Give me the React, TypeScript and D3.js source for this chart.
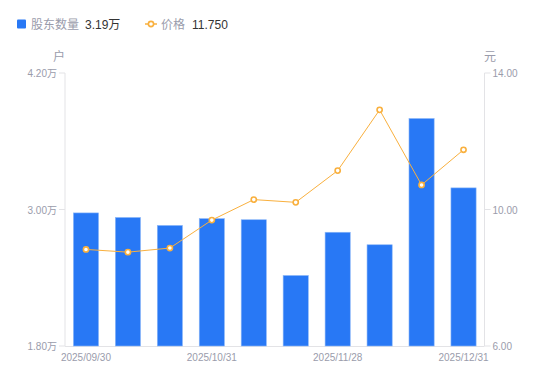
import React from "react";
import * as d3 from "d3";

const categories = ["2025/09/30", "2025/10/10", "2025/10/20", "2025/10/31", "2025/11/10", "2025/11/20", "2025/11/28", "2025/12/10", "2025/12/19", "2025/12/31"];
const holders = [2.97, 2.93, 2.86, 2.92, 2.91, 2.42, 2.80, 2.69, 3.80, 3.19];
const prices = [8.83, 8.75, 8.87, 9.69, 10.29, 10.21, 11.14, 12.92, 10.72, 11.75];
const leftTicks = [1.8, 3.0, 4.2];
const rightTicks = [6, 10, 14];
const xLabelIdx = [0, 3, 6, 9];

const W = 550, H = 381;
const L = 65, R = 484.5, T = 73, B = 346;
const font = "'Liberation Sans', Arial, 'Noto Sans CJK SC', sans-serif";
const gray = "#9a9cab";
const axisCol = "#e3e3e6";
const blue = "#2878F5";
const orange = "#F9B03E";

export default function App() {
  const x = d3.scaleBand<string>().domain(categories).range([L, R]).paddingInner(0.4).paddingOuter(0.2);
  const yL = d3.scaleLinear().domain([1.8, 4.2]).range([B, T]);
  const yR = d3.scaleLinear().domain([6, 14]).range([B, T]);
  const cx = (c: string) => (x(c) as number) + x.bandwidth() / 2;
  const line = d3.line<number>().x((_, i) => cx(categories[i])).y((d) => yR(d));

  return (
    <svg width={W} height={H} style={{ position: "absolute", left: 0, top: 0 }} fontFamily={font}>
      <rect width={W} height={H} fill="#fff" />
      {/* legend */}
      <rect x={17} y={19.5} width={9} height={9} rx={1} fill={blue} />
      <text x={31} y={29} fontSize={12} fill={gray}>股东数量</text>
      <text x={85} y={29} fontSize={12} fill="#333">{holders[holders.length - 1].toFixed(2)}万</text>
      <line x1={145} x2={157} y1={24} y2={24} stroke={orange} strokeWidth={1.5} />
      <circle cx={151} cy={24} r={2.6} fill="#fff" stroke={orange} strokeWidth={1.6} />
      <text x={161} y={29} fontSize={12} fill={gray}>价格</text>
      <text x={192} y={29} fontSize={12} fill="#333">{prices[prices.length - 1].toFixed(3)}</text>

      {/* unit labels */}
      <text x={59} y={61} fontSize={12} fill={gray} textAnchor="middle">户</text>
      <text x={490} y={61} fontSize={12} fill={gray} textAnchor="middle">元</text>

      {/* axes */}
      <line x1={L} x2={L} y1={T} y2={B} stroke={axisCol} />
      <line x1={R} x2={R} y1={T} y2={B} stroke={axisCol} />
      <line x1={L} x2={R} y1={B + 0.5} y2={B + 0.5} stroke={axisCol} />
      {leftTicks.map((t) => (
        <g key={"l" + t}>
          <line x1={L - 6} x2={L} y1={yL(t)} y2={yL(t)} stroke={axisCol} />
          <text x={L - 8} y={yL(t) + 4} fontSize={10} fill={gray} textAnchor="end">{t.toFixed(2)}万</text>
        </g>
      ))}
      {rightTicks.map((t) => (
        <g key={"r" + t}>
          <line x1={R} x2={R + 6} y1={yR(t)} y2={yR(t)} stroke={axisCol} />
          <text x={R + 8} y={yR(t) + 4} fontSize={10} fill={gray} textAnchor="start">{t.toFixed(2)}</text>
        </g>
      ))}
      {xLabelIdx.map((i) => (
        <text key={"x" + i} x={cx(categories[i])} y={361} fontSize={10} fill={gray} textAnchor="middle">{categories[i]}</text>
      ))}

      {/* bars */}
      {holders.map((v, i) => (
        <rect key={"b" + i} x={x(categories[i])} y={yL(v)} width={x.bandwidth()} height={B - yL(v)} fill={blue} stroke="#8db8f8" strokeWidth={0.6} />
      ))}

      {/* price line */}
      <path d={line(prices) || ""} fill="none" stroke={orange} strokeWidth={1} />
      {prices.map((p, i) => (
        <circle key={"p" + i} cx={cx(categories[i])} cy={yR(p)} r={2.6} fill="#fff" stroke={orange} strokeWidth={1.6} />
      ))}
    </svg>
  );
}
